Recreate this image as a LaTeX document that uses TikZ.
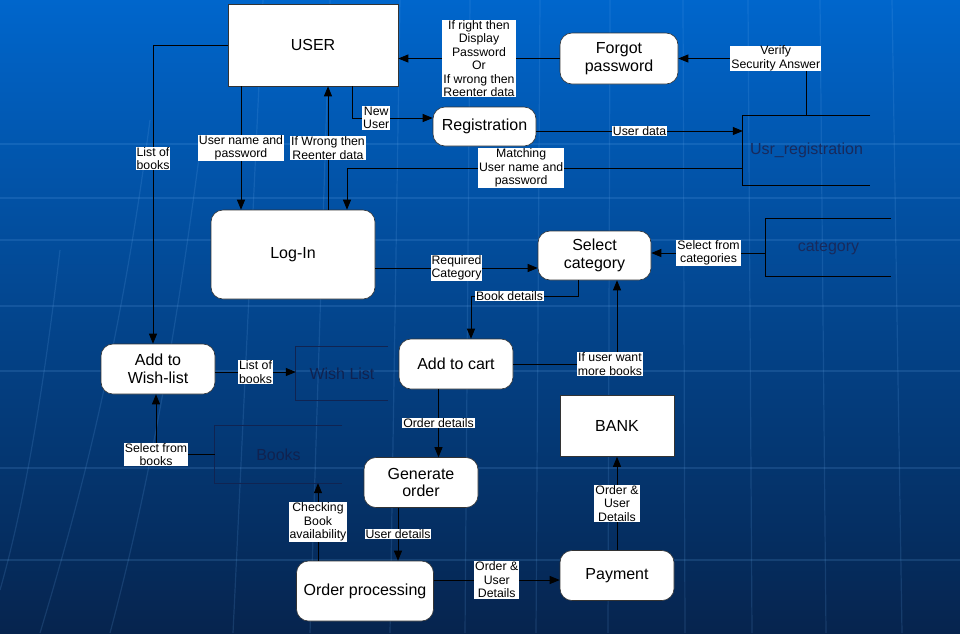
\documentclass[tikz,border=0pt]{standalone}
\usepackage{fontspec}
\setmainfont{Liberation Sans}
\usetikzlibrary{arrows.meta,calc}
\definecolor{bgtop}{RGB}{0,102,204}
\definecolor{bgmid}{RGB}{8,72,148}
\definecolor{bgbot}{RGB}{6,36,78}
\definecolor{storetext}{RGB}{24,42,92}
\definecolor{storetextdark}{RGB}{16,34,80}
\definecolor{storeline}{RGB}{16,36,82}
\definecolor{gridc}{RGB}{110,175,240}
\tikzset{
  proc/.style={draw=black!80, line width=0.6pt, fill=white, rounded corners=12pt, inner sep=0pt,
    align=center, font=\fontsize{16}{17.5}\selectfont},
  ent/.style={draw=black!80, line width=0.6pt, fill=white, inner sep=0pt, align=center,
    font=\fontsize{16}{17.5}\selectfont},
  store/.style={inner sep=0pt, text=storetext, font=\fontsize{16}{18}\selectfont},
  lbl/.style={fill=white, text=black, inner xsep=1pt, inner ysep=0.5pt, align=center,
    font=\fontsize{12.3}{13.5}\selectfont},
  flow/.style={draw=black, line width=0.8pt, -{Triangle[length=10pt,width=8pt]}}
}
\begin{document}
\begin{tikzpicture}[x=1pt,y=-1pt]
\useasboundingbox (0,0) rectangle (960,633);
\shade[top color=bgtop, middle color=bgmid, bottom color=bgbot] (0,0) rectangle (960,633);
\begin{scope}[draw=gridc, opacity=0.16, line width=1.2pt]
  \foreach \y in {144,198,240,306,371,468,560} \draw (0,\y) -- (960,\y);
  \foreach \x/\d in {263/-30,330/-20,400/-10,470/-5,540/-4,610/-2,683/2,748/4,820/6,892/10} \draw (\x,0) -- (\x+\d,633);
  \draw (150,120) .. controls (120,350) and (80,500) .. (40,633);
  \draw (200,150) .. controls (170,380) and (140,520) .. (110,633);
  \draw (60,250) .. controls (40,420) and (20,520) .. (0,590);
\end{scope}

% nodes
\node[ent, minimum width=170pt, minimum height=82pt] (user) at (313,45) {USER};
\node[proc, minimum width=118pt, minimum height=51pt] (forgot) at (619,58.5) {Forgot\\password};
\node[proc, minimum width=103pt, minimum height=39pt] (reg) at (484.5,126.5) {Registration};
\node[store, minimum width=127pt, minimum height=69pt] (usr) at (806.5,150.5) {Usr\_registration};
\node[proc, minimum width=164pt, minimum height=89pt] (login) at (293,254.5) {Log-In};
\node[proc, minimum width=113pt, minimum height=49pt] (selcat) at (594.5,255.5) {Select\\category};
\node[store, minimum width=125pt, minimum height=57pt] (cat) at (828.5,247.5) {category};
\node[proc, minimum width=114pt, minimum height=50pt] (wish) at (158,369) {Add to\\Wish-list};
\node[store, text=storetextdark, minimum width=92pt, minimum height=53pt] (wl) at (342,373.5) {Wish List};
\node[proc, minimum width=114pt, minimum height=50pt] (cart) at (456,364) {Add to cart};
\node[store, text=storetextdark, minimum width=127pt, minimum height=57pt] (books) at (278.5,454.5) {Books};
\node[proc, minimum width=114pt, minimum height=50pt] (gen) at (421,482.5) {Generate\\order};
\node[ent, minimum width=114pt, minimum height=61pt] (bank) at (617,426) {BANK};
\node[proc, minimum width=137pt, minimum height=60pt] (oproc) at (365,591) {Order processing};
\node[proc, minimum width=114pt, minimum height=50pt] (pay) at (617,575.5) {Payment};

% data store outlines
\foreach \s/\c in {usr/black, cat/black, wl/storeline, books/storeline}
  \draw[draw=\c, line width=0.7pt] (\s.north east) -- (\s.north west) -- (\s.south west) -- (\s.south east);

% flows
\draw[flow] (forgot.west) -- node[lbl]{If right then\\Display\\Password\\Or\\If wrong then\\Reenter data} (forgot.west -| user.east);
\draw[flow] (usr.north) |- node[lbl,pos=0.62]{Verify\\Security Answer} (forgot.east);
\draw[flow] ([xshift=39pt]user.south) |- node[lbl,pos=0.65]{New\\User} ([yshift=8.5pt]reg.west);
\draw[flow] ([yshift=-4.5pt]reg.east) -- node[lbl]{User data} ([yshift=-4.5pt]reg.east -| usr.west);
\draw[flow] ([yshift=-17.5pt]usr.west) -| node[lbl,pos=0.28]{Matching\\User name and\\password} ([xshift=54pt]login.north);
\draw[flow] ([xshift=-72pt]user.south) -- node[lbl]{User name and\\password} ([xshift=-72pt]user.south |- login.north);
\draw[flow] ([xshift=35pt]login.north) -- node[lbl]{If Wrong then\\Reenter data} ([xshift=35pt]login.north |- user.south);
\draw[flow] (user.west) -| node[lbl,pos=0.69]{List of\\books} ([xshift=-5pt]wish.north);
\draw[flow] ([yshift=-13.5pt]login.east) -- node[lbl]{Required\\Category} ([yshift=-13.5pt]login.east -| selcat.west);
\draw[flow] ([yshift=-5.5pt]cat.west) -- node[lbl]{Select from\\categories} ([yshift=-5.5pt]cat.west -| selcat.east);
\draw[flow] ([xshift=-16.5pt]selcat.south) -- ++(0,16) -| node[lbl,pos=0.32]{Book details} ([xshift=15pt]cart.north);
\draw[flow] (cart.east) -| node[lbl,pos=0.466]{If user want\\more books} ([xshift=22.5pt]selcat.south);
\draw[flow] ([yshift=-3pt]wish.east) -- node[lbl]{List of\\books} ([yshift=-3pt]wish.east -| wl.west);
\draw[flow] (books.west) -| node[lbl]{Select from\\books} ([xshift=-2pt]wish.south);
\draw[flow] ([xshift=-17.5pt]cart.south) -- node[lbl]{Order details} ([xshift=-17.5pt]cart.south |- gen.north);
\draw[flow] ([xshift=-23pt]gen.south) -- node[lbl]{User details} ([xshift=-23pt]gen.south |- oproc.north);
\draw[flow] ([xshift=-47pt]oproc.north) -- node[lbl]{Checking\\Book\\availability} ([xshift=-47pt]oproc.north |- books.south);
\draw[flow] ([yshift=11pt]oproc.east) -- node[lbl]{Order \&\\User\\Details} ([yshift=11pt]oproc.east -| pay.west);
\draw[flow] (pay.north) -- node[lbl]{Order \&\\User\\Details} (bank.south);
\end{tikzpicture}
\end{document}
